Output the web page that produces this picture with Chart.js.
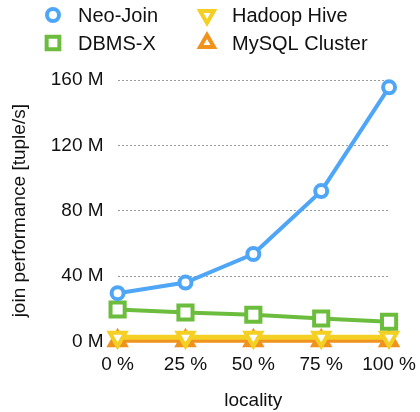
<!DOCTYPE html>
<html><head><meta charset="utf-8">
<script src="https://cdn.jsdelivr.net/npm/chart.js@4/dist/chart.umd.min.js"></script>
<style>html,body{margin:0;padding:0;background:#fff}#wrap{width:420px;height:412px}</style>
</head><body><div id="wrap"><canvas id="c" width="420" height="412"></canvas></div>
<script>
const categories = ['0 %', '25 %', '50 %', '75 %', '100 %'];
const neoJoin = [29.5, 36, 53.5, 92, 155.5];
const dbmsX = [19.5, 17.7, 16.3, 14, 12];
const hadoopHive = [2.5, 2.5, 2.5, 2.5, 2.5];
const mysqlCluster = [0.4, 0.4, 0.4, 0.4, 0.4];
const yTicks = [0, 40, 80, 120, 160];

const FONT = '"Liberation Sans", Arial, sans-serif';

const legendPlugin = {
  id: 'customLegend',
  afterDraw(chart) {
    const ctx = chart.ctx;
    const items = [
      {i: 0, x: 53, y: 15}, {i: 2, x: 207, y: 15},
      {i: 1, x: 53, y: 43}, {i: 3, x: 207, y: 43}
    ];
    const radii = {circle: 6, rect: 9, triangle: 8};
    ctx.save();
    items.forEach(it => {
      const ds = chart.data.datasets[it.i];
      ctx.strokeStyle = ds.borderColor;
      ctx.fillStyle = '#fff';
      ctx.lineWidth = 4;
      ctx.setLineDash([]);
      Chart.helpers.drawPoint(ctx, {pointStyle: ds.pointStyle, rotation: ds.pointRotation || 0, radius: radii[ds.pointStyle], borderWidth: 4}, it.x, it.y);
      ctx.fillStyle = '#111';
      ctx.font = '20px ' + FONT;
      ctx.textBaseline = 'middle';
      ctx.textAlign = 'left';
      ctx.fillText(ds.label, it.x + 25, it.y + 1);
    });
    ctx.restore();
  }
};

new Chart(document.getElementById('c'), {
  type: 'line',
  data: {
    labels: categories,
    datasets: [
      {label: 'Neo-Join', data: neoJoin, borderColor: '#4fa6f7', pointStyle: 'circle', pointRadius: 6, pointBorderWidth: 4, borderWidth: 4},
      {label: 'DBMS-X', data: dbmsX, borderColor: '#6cbd3e', pointStyle: 'rect', pointRadius: 10, pointBorderWidth: 4, borderWidth: 4},
      {label: 'Hadoop Hive', data: hadoopHive, borderColor: '#f5d024', pointStyle: 'triangle', pointRotation: 180, pointRadius: 9, pointBorderWidth: 4, borderWidth: 5},
      {label: 'MySQL Cluster', data: mysqlCluster, borderColor: '#f0921e', pointStyle: 'triangle', pointRadius: 9, pointBorderWidth: 4, borderWidth: 4}
    ].map(d => Object.assign(d, {backgroundColor: '#fff', pointBackgroundColor: '#fff', clip: false, tension: 0}))
  },
  options: {
    responsive: false,
    animation: false,
    layout: {padding: {top: 80, right: 29, left: 4, bottom: 0}},
    plugins: {legend: {display: false}, tooltip: {enabled: false}},
    scales: {
      x: {
        offset: false,
        grid: {display: false},
        border: {display: true, color: '#555', width: 2, z: -1},
        ticks: {color: '#111', font: {family: FONT, size: 19}, padding: 4, maxRotation: 0},
        title: {display: true, text: 'locality', color: '#111', font: {family: FONT, size: 19}, padding: {top: 9, bottom: 0}}
      },
      y: {
        min: 0, max: 160,
        afterBuildTicks: s => { s.ticks = yTicks.map(v => ({value: v})); },
        grid: {
          drawTicks: false,
          color: c => c.tick && c.tick.value === 0 ? 'rgba(0,0,0,0)' : '#9a9a9a',
          lineWidth: 1
        },
        border: {display: false, dash: [2, 2]},
        ticks: {color: '#111', font: {family: FONT, size: 19}, padding: 14, callback: v => v + ' M'},
        title: {display: true, text: 'join performance [tuple/s]', color: '#111', font: {family: FONT, size: 19}, padding: {bottom: 6}}
      }
    }
  },
  plugins: [legendPlugin]
});
</script></body></html>
